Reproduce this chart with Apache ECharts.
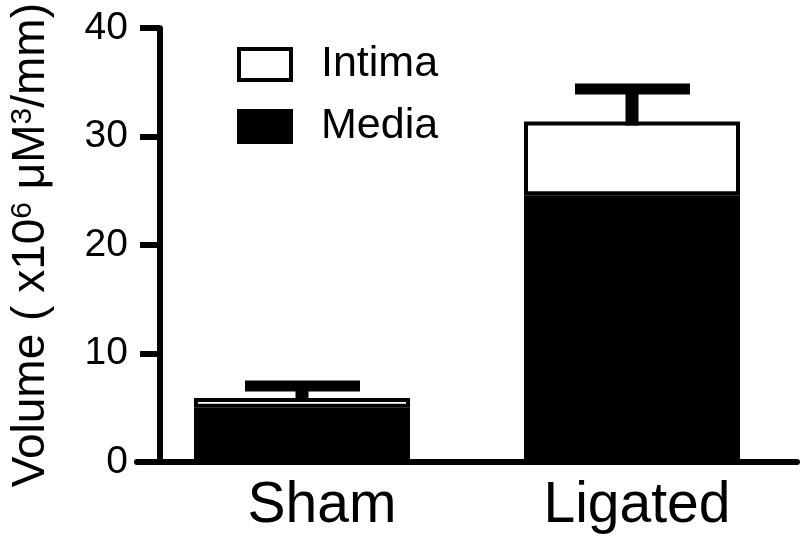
<!DOCTYPE html>
<html>
<head>
<meta charset="utf-8">
<script src="https://cdn.jsdelivr.net/npm/echarts@6/dist/echarts.min.js"></script>
<style>
  html, body { margin: 0; padding: 0; background: #fff; }
  #chart { width: 800px; height: 548px; }
</style>
</head>
<body>
<div id="chart"></div>
<script>
// values (x10^6 uM^3/mm)
const groups = ['Sham', 'Ligated']
const media = [5.0, 24.6]
const intima = [0.9, 6.8]
const sem = [1.1, 3.0]
const yTicks = [0, 10, 20, 30, 40]

const font = 'Liberation Sans, Arial, Helvetica, sans-serif'
const totals = media.map((m, i) => m + intima[i])

const chart = echarts.init(document.getElementById('chart'))

// error bar: stem from the top of the stack plus a thick cap
function renderErr(params, api) {
  const idx = api.value(0)
  const top = api.coord([idx, api.value(1) + api.value(2)])
  const base = api.coord([idx, api.value(1)])
  return {
    type: 'group',
    children: [
      {
        type: 'rect',
        shape: { x: top[0] - 6.5, y: top[1], width: 13, height: base[1] - top[1] + 4 },
        style: { fill: '#000' }
      },
      {
        type: 'rect',
        shape: { x: top[0] - 57, y: top[1] - 5.5, width: 115, height: 11 },
        style: { fill: '#000' }
      }
    ]
  }
}

chart.setOption({
  animation: false,
  backgroundColor: '#fff',
  grid: { left: 137, top: 24, width: 660, bottom: 86 },
  legend: {
    orient: 'vertical',
    left: 232,
    top: 38,
    itemWidth: 52,
    itemHeight: 31,
    itemGap: 19,
    selectedMode: false,
    icon: 'rect',
    textStyle: { fontSize: 43, color: '#000', fontFamily: font, lineHeight: 31, padding: [0, 0, 0, 25] },
    data: [
      { name: 'Intima', itemStyle: { color: '#fff', borderColor: '#000', borderWidth: 4 } },
      { name: 'Media', itemStyle: { color: '#000', borderColor: '#000', borderWidth: 4 } }
    ]
  },
  xAxis: {
    type: 'category',
    data: [
      { value: groups[0], textStyle: { padding: [0, 0, 0, 40] } },
      { value: groups[1], textStyle: { padding: [0, 0, 0, 10] } }
    ],
    axisLine: { lineStyle: { color: '#000', width: 6 } },
    axisTick: { show: false },
    axisLabel: { fontSize: 57, color: '#000', fontFamily: font, margin: 16 }
  },
  yAxis: {
    type: 'value',
    min: 0,
    max: 40,
    interval: 10,
    offset: -23,
    name: 'Volume ( x10{sup|6} μM{sup|3}/mm)',
    nameLocation: 'middle',
    nameGap: 106,
    nameTextStyle: {
      fontSize: 46,
      color: '#000',
      fontFamily: font,
      rich: {
        sup: { fontSize: 30, color: '#000', fontFamily: font, verticalAlign: 'top', lineHeight: 40 }
      }
    },
    axisLine: { show: true, lineStyle: { color: '#000', width: 6 } },
    axisTick: { show: true, length: 20, lineStyle: { color: '#000', width: 6 } },
    axisLabel: {
      fontSize: 39,
      color: '#000',
      fontFamily: font,
      margin: 32,
      formatter: v => (yTicks.indexOf(v) >= 0 ? String(v) : '')
    },
    splitLine: { show: false }
  },
  series: [
    {
      name: 'Media',
      type: 'bar',
      stack: 'vol',
      barWidth: 216,
      data: media,
      itemStyle: { color: '#000', borderColor: '#000', borderWidth: 4 }
    },
    {
      name: 'Intima',
      type: 'bar',
      stack: 'vol',
      barWidth: 216,
      data: intima,
      itemStyle: { color: '#fff', borderColor: '#000', borderWidth: 4 }
    },
    {
      name: 'SEM',
      type: 'custom',
      renderItem: renderErr,
      z: 5,
      data: groups.map((g, i) => [i, totals[i], sem[i]])
    }
  ]
})
</script>
</body>
</html>
